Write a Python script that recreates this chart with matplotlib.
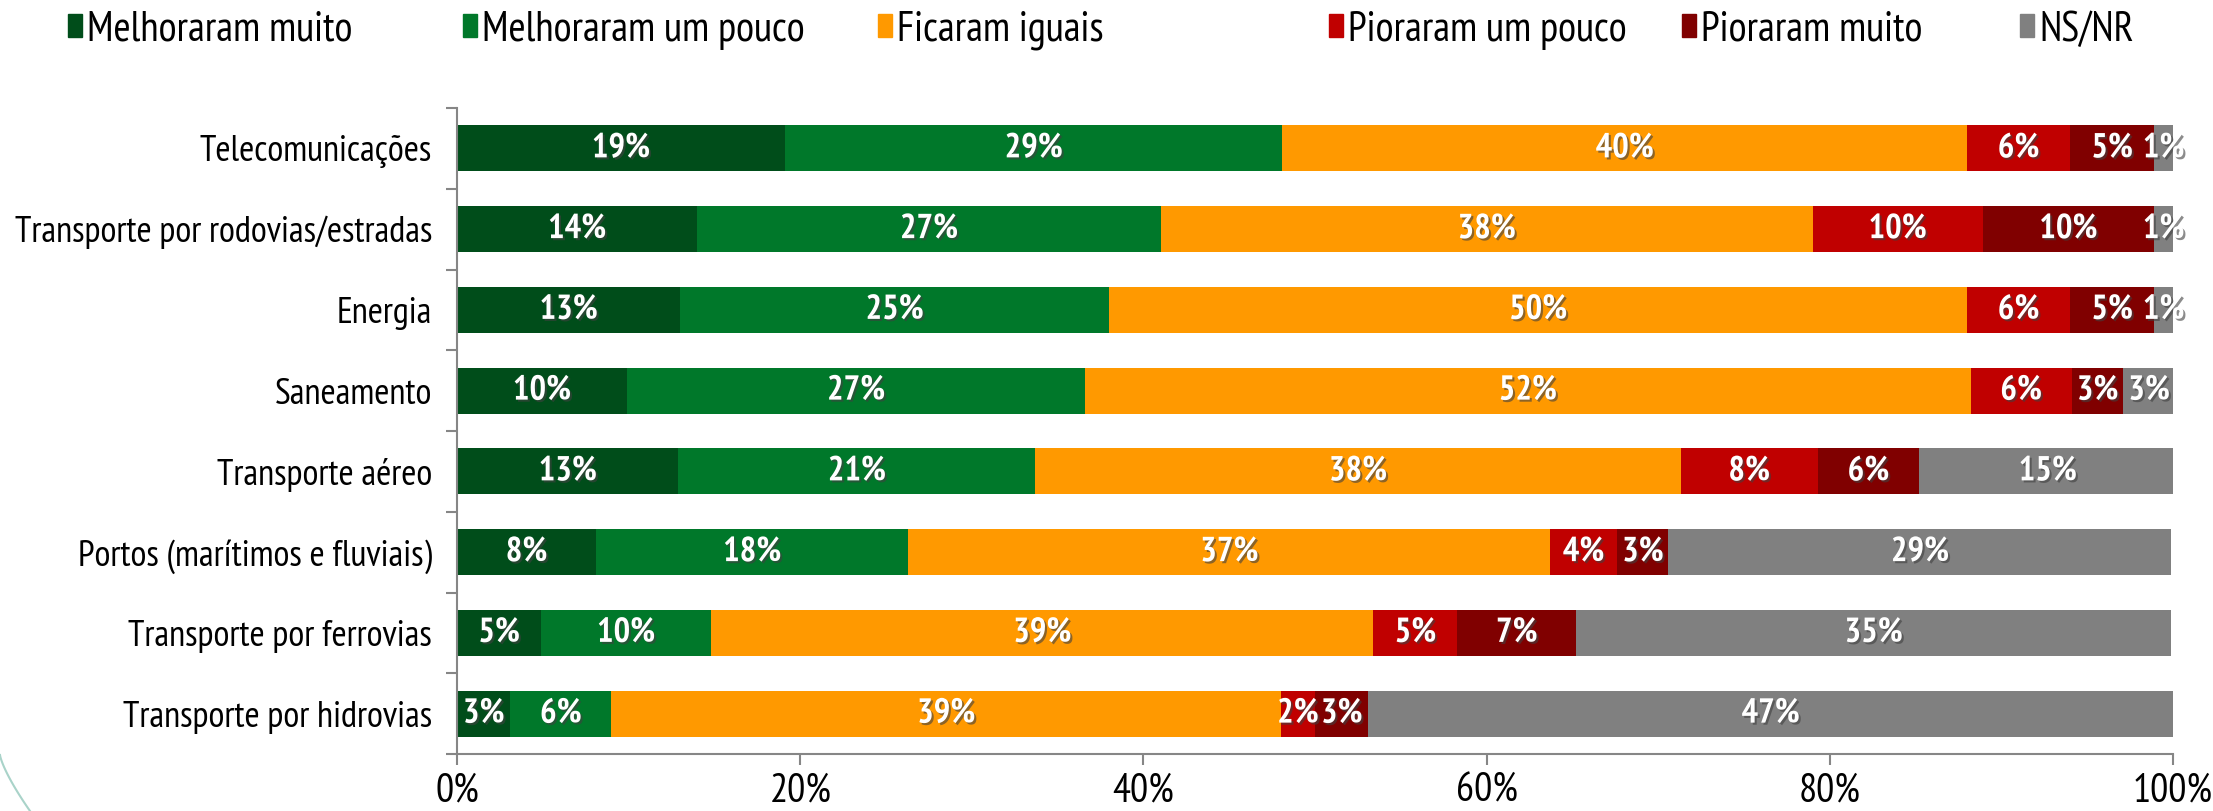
import matplotlib
matplotlib.use("Agg")
import matplotlib.pyplot as plt
import matplotlib.patheffects as pe
from matplotlib.patches import Patch
from matplotlib.lines import Line2D
import numpy as np

plt.rcParams["font.family"] = ["PT Sans Narrow", "Archivo Narrow", "Asap Condensed", "DejaVu Sans"]

categories = [
    "Telecomunicações",
    "Transporte por rodovias/estradas",
    "Energia",
    "Saneamento",
    "Transporte aéreo",
    "Portos (marítimos e fluviais)",
    "Transporte por ferrovias",
    "Transporte por hidrovias",
]
series_names = [
    "Melhoraram muito",
    "Melhoraram um pouco",
    "Ficaram iguais",
    "Pioraram um pouco",
    "Pioraram muito",
    "NS/NR",
]
colors = ["#004D1A", "#00782A", "#FF9900", "#C00000", "#800000", "#808080"]

melhoraram_muito = [19.1, 14.0, 13.0, 9.9, 12.9, 8.1, 4.9, 3.1]
melhoraram_pouco = [29.0, 27.0, 25.0, 26.7, 20.8, 18.2, 9.9, 5.9]
ficaram_iguais = [39.9, 38.0, 50.0, 51.6, 37.6, 37.4, 38.6, 39.0]
pioraram_pouco = [6.0, 9.9, 6.0, 5.9, 8.0, 3.9, 4.9, 2.0]
pioraram_muito = [4.9, 10.0, 4.9, 3.0, 5.9, 3.0, 6.9, 3.1]
ns_nr = [1.1, 1.1, 1.1, 3.0, 15.0, 29.3, 34.7, 46.9]

series = [melhoraram_muito, melhoraram_pouco, ficaram_iguais,
          pioraram_pouco, pioraram_muito, ns_nr]

W, H = 2213, 811
fig = plt.figure(figsize=(W / 100, H / 100), dpi=100)
ax = fig.add_axes([457 / W, 1 - 754 / H, (2173 - 457) / W, (754 - 108) / H])

n = len(categories)
y = np.arange(n)
left = np.zeros(n)
shadow = [pe.withSimplePatchShadow(offset=(1.5, -1.5), shadow_rgbFace="#404040", alpha=0.6)]
for vals, name, col in zip(series, series_names, colors):
    vals = np.array(vals)
    ax.barh(y, vals, left=left, height=0.57, color=col, label=name, edgecolor="none")
    for yi, (l, v) in enumerate(zip(left, vals)):
        ax.text(l + v / 2, yi, f"{v:.0f}%", ha="center", va="center",
                color="white", fontsize=25, fontweight="bold", path_effects=shadow)
    left += vals

ax.set_xlim(0, 100)
ax.set_ylim(n - 0.5, -0.5)

ax.set_xticks(np.arange(0, 101, 20))
ax.set_xticklabels([f"{t}%" for t in range(0, 101, 20)], fontsize=29)
ax.tick_params(axis="x", length=8, width=1.5, color="#868686", pad=5)

ax.set_yticks(np.arange(n + 1) - 0.5)
ax.set_yticklabels([])
ax.set_yticks(y, minor=True)
ax.set_yticklabels(categories, minor=True, fontsize=26.5)
ax.tick_params(axis="y", which="major", length=8, width=1.5, color="#868686")
ax.tick_params(axis="y", which="minor", length=0, pad=18)

for s in ["top", "right"]:
    ax.spines[s].set_visible(False)
for s in ["left", "bottom"]:
    ax.spines[s].set_color("#868686")
    ax.spines[s].set_linewidth(1.5)

# legend entries placed individually like the original
legend_x = [68, 463, 878, 1329, 1682, 2020]
for name, col, lx in zip(series_names, colors, legend_x):
    fig.legend(handles=[Patch(color=col)], labels=[name], loc="center left",
               bbox_to_anchor=(lx / W, 1 - 30 / H), frameon=False, fontsize=30,
               handlelength=0.34, handleheight=0.48, handletextpad=0.12,
               borderpad=0, borderaxespad=0)

# decorative curve in the lower-left corner
t = np.linspace(0, 1, 30)
fig.add_artist(Line2D((0 + 30 * t ** 1.3) / W, 1 - (755 + 56 * t) / H,
                      color="#A9D3C9", lw=1.5))

fig.savefig("out.png", dpi=100)
